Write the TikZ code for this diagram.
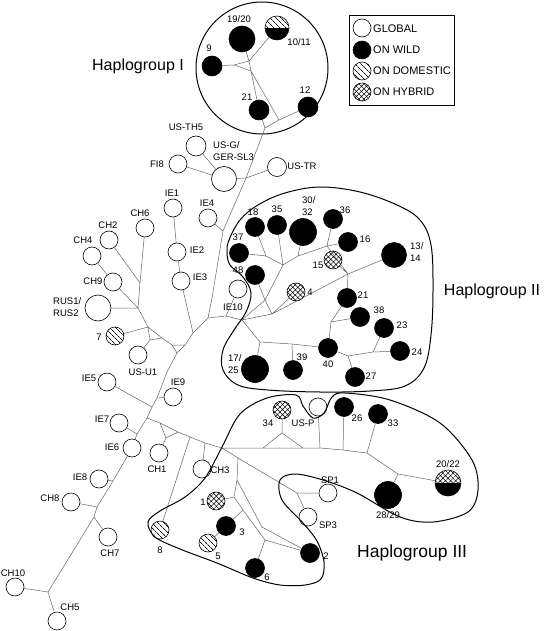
\documentclass[tikz,border=0pt]{standalone}
\usepackage{fontspec}
\setmainfont{Liberation Sans}
\usetikzlibrary{patterns.meta}
\begin{document}
\begin{tikzpicture}[x=1pt,y=-1pt,
  net/.style={draw=black!60, line width=0.5pt},
  outl/.style={draw=black, line width=1pt},
  hp/.style={circle, draw=black, line width=0.6pt, inner sep=0pt, minimum size=#1},
  hp/.default=18pt,
  glob/.style={hp=#1, fill=white}, glob/.default=18pt,
  wild/.style={hp=#1, fill=black}, wild/.default=19pt,
  dom/.style={hp=#1, preaction={fill=white}, pattern={Lines[angle=-45,distance=4pt,line width=0.7pt]}}, dom/.default=18pt,
  hyb/.style={hp=#1, preaction={fill=white}, pattern={Hatch[angle=45,distance=3.6pt,line width=0.5pt]}}, hyb/.default=18pt,
  lab/.style={inner sep=0pt, font=\fontsize{9.5}{12}\selectfont},
  labl/.style={lab, align=left, anchor=west},
  big/.style={inner sep=0pt, font=\fontsize{16}{18}\selectfont},
]
\useasboundingbox (0,0) rectangle (550,631);
\fill[white] (0,0) rectangle (550,631);

% ---------- Haplogroup I ----------
\node[wild=26pt] (n19) at (242,39) {};
\node[hp=24pt, fill=white, path picture={
  \fill[pattern={Lines[angle=-45,distance=4pt,line width=0.7pt]}] (path picture bounding box.north west) rectangle (path picture bounding box.east);
  \fill[black] (path picture bounding box.west) rectangle (path picture bounding box.south east);}] (n10) at (277,28) {};
\node[wild=20pt] (n9) at (212,66) {};
\node[wild=20pt] (n21a) at (259,110) {};
\node[wild=20pt] (n12) at (308,107) {};
\coordinate (ta) at (234,65);
\coordinate (tb) at (249,61);
\coordinate (tc) at (251,71);
\coordinate (a1) at (265,128);
\coordinate (a2) at (279,120);
\draw[net] (n9)--(ta)--(tb)--(tc)--(ta) (n10)--(tb) (n19)--(tb)
  (tc)--(n21a)--(a1) (tc)--(a2)--(n12) (a2)--(a1);
\draw[outl] (262,68) circle[radius=66];
\node[lab] at (239,19) {19/20};
\node[lab] at (299,42) {10/11};
\node[lab] at (209,48) {9};
\node[lab] at (247,97) {21};
\node[lab] at (305,90) {12};
\node[big] at (138,66) {Haplogroup I};

% ---------- legend ----------
\draw[line width=0.6pt] (349,15) rectangle (454,105);
\node[glob] (lg1) at (362,28) {};
\node[wild=18pt] (lg2) at (362,50) {};
\node[dom] (lg3) at (362,71) {};
\node[hyb] (lg4) at (362,92) {};
\begin{scope}[every node/.style={inner sep=0pt, anchor=west, font=\fontsize{11}{12}\selectfont}]
\node at (373,29) {GLOBAL};
\node at (373,50) {ON WILD};
\node at (373,71) {ON DOMESTIC};
\node at (373,92) {ON HYBRID};
\end{scope}

% ---------- global haplotypes (left) ----------
\node[glob=20pt] (usth5) at (196,146) {};
\node[glob=25pt] (usg) at (224,179) {};
\node[glob] (fi8) at (178,164) {};
\node[glob=19pt] (ustr) at (277,167) {};
\node[glob] (ie4) at (208,218) {};
\node[glob] (ie1) at (173,208) {};
\node[glob] (ie2) at (177,252) {};
\node[glob] (ie3) at (181,281) {};
\node[glob] (ch6) at (145,228) {};
\node[glob] (ch2) at (109,240) {};
\node[glob] (ch4) at (92,256) {};
\node[glob] (ch9) at (113,282) {};
\node[glob=26pt] (rus) at (98,308) {};
\node[dom] (n7) at (115,336) {};
\node[glob] (usu1) at (138,355) {};
\node[glob] (ie5) at (107,382) {};
\node[glob] (ie9) at (173,397) {};
\node[glob] (ie7) at (119,423) {};
\node[glob] (ie6) at (132,448) {};
\node[glob] (ch1) at (159,453) {};
\node[glob] (ie8) at (99,479) {};
\node[glob] (ch8) at (71,502) {};
\node[glob] (ch7) at (108,537) {};
\node[glob] (ch10) at (15,587) {};
\node[glob] (ch5) at (57,621) {};
\node[glob] (ie10) at (238,289) {};

\node[lab] at (186,127) {US-TH5};
\node[labl] at (213,151) {US-G/\\GER-SL3};
\node[lab] at (157,164) {FI8};
\node[lab] at (302,166) {US-TR};
\node[lab] at (207,203) {IE4};
\node[lab] at (172,193) {IE1};
\node[lab] at (197,250) {IE2};
\node[lab] at (200,277) {IE3};
\node[lab] at (140,213) {CH6};
\node[lab] at (108,225) {CH2};
\node[lab] at (83,240) {CH4};
\node[lab] at (93,281) {CH9};
\node[labl] at (53,307) {RUS1/\\RUS2};
\node[lab] at (99,337) {7};
\node[lab] at (143,372) {US-U1};
\node[lab] at (89,378) {IE5};
\node[lab] at (178,382) {IE9};
\node[lab] at (102,419) {IE7};
\node[lab] at (112,447) {IE6};
\node[lab] at (157,469) {CH1};
\node[lab] at (80,477) {IE8};
\node[lab] at (50,498) {CH8};
\node[lab] at (110,553) {CH7};
\node[lab] at (13,573) {CH10};
\node[lab] at (70,607) {CH5};
\node[lab] at (233,307) {IE10};

% trunk
\coordinate (t1) at (246,178);
\coordinate (t2) at (223,231);
\coordinate (t3) at (212,298);
\coordinate (t3b) at (208,318);
\coordinate (t4) at (193,333);
\coordinate (ta3) at (185,345);
\coordinate (tb3) at (172,345);
\coordinate (tc3) at (177,353);
\coordinate (t5) at (167,372);
\coordinate (t6) at (157,398);
\coordinate (t6b) at (152,407);
\coordinate (t7) at (147,418);
\coordinate (t8) at (137,434);
\coordinate (t10) at (113,481);
\coordinate (t11) at (97,507);
\coordinate (t11b) at (94,517);
\coordinate (t12) at (48,592);
\draw[net] (a1)--(t1)--(t2)--(t3)--(t3b)--(t4)--(ta3)--(tb3)--(tc3)--(ta3)
  (tc3)--(t5)--(t6)--(t6b)--(t7)--(t8)--(ie6)--(t10)--(t11)--(t11b)--(t12);
\draw[net] (usth5)--(usg)--(t1) (fi8)--(usg) (ustr)--(t1) (ie4)--(t2)
  (ie1)--(ie2)--(ie3)--(t4) (ie9)--(t6) (ie5)--(t6b) (ie7)--(t8)
  (ie8)--(t10) (ch8)--(t11) (ch7)--(t11b) (ch10)--(t12) (ch5)--(t12);
% left cluster
\coordinate (th) at (140,283);
\coordinate (tg) at (138,308);
\coordinate (te) at (148,327);
\coordinate (tf) at (150,340);
\coordinate (td) at (162,338);
\draw[net] (ch2)--(th) (ch6)--(th) (th)--(tg) (rus)--(tg) (ch4)--(ch9)--(tg)
  (tg)--(te) (n7)--(te) (te)--(tf) (usu1)--(tf) (te)--(td) (tf)--(td) (td)--(tb3);

% ---------- Haplogroup II ----------
\node[wild] (n18) at (255,227) {};
\node[wild] (n35) at (277,225) {};
\node[wild=27pt] (n3032) at (303,232) {};
\node[wild] (n36) at (333,219) {};
\node[wild] (n16) at (348,242) {};
\node[hyb] (n15) at (333,260) {};
\node[wild=25pt] (n1314) at (394,255) {};
\node[wild] (n37) at (239,253) {};
\node[wild] (n48) at (255,275) {};
\node[hyb] (n4) at (296,292) {};
\node[wild] (n21b) at (347,298) {};
\node[wild] (n38) at (360,317) {};
\node[wild] (n23) at (384,328) {};
\node[wild] (n24) at (400,351) {};
\node[wild] (n40) at (328,348) {};
\node[wild] (n27) at (355,377) {};
\node[wild] (n39) at (293,370) {};
\node[wild=27pt] (n1725) at (255,369) {};

\coordinate (r2) at (226,316);
\coordinate (hp0) at (242,320);
\coordinate (ha) at (272,314);
\coordinate (hk) at (265,300);
\coordinate (h1) at (348,274);
\coordinate (f0) at (266,256);
\coordinate (g3) at (283,265);
\coordinate (g2) at (298,256);
\coordinate (g1) at (327,246);
\coordinate (hb0) at (260,342);
\coordinate (l39) at (292,344);
\coordinate (pp) at (331,322);
\coordinate (nn) at (348,356);
\coordinate (oo) at (373,352);
\draw[net] (t3b)--(r2)--(hp0)--(ha)--(h1)--(n1314) (ie10)--(r2)
  (ha)--(n4) (hp0)--(hk)--(ha) (hk)--(n48) (hk)--(g3) (f0)--(g3)
  (n18)--(f0) (n37)--(f0) (g3)--(g2)--(g1) (n35)--(g3) (n3032)--(g2)
  (n36)--(g1) (n16)--(g1) (g1)--(h1) (n15)--(h1) (h1)--(n21b)
  (hp0)--(hb0)--(n1725) (hb0)--(l39)--(n40) (l39)--(n39)
  (n40)--(pp)--(n21b) (pp)--(n38) (n40)--(nn)--(n27) (nn)--(oo)--(n24) (oo)--(n23);

\draw[outl] plot[smooth cycle, tension=0.6] coordinates {
 (229,240) (240,220) (258,205) (285,193) (320,187) (360,192) (397,205) (420,220)
 (431,245) (433,290) (431,335) (424,368) (405,386) (370,391) (320,392) (268,390)
 (238,385) (223,370) (223,350) (234,330) (246,312) (251,293) (243,277) (230,265) (227,252)};

\node[lab] at (253,212) {18};
\node[lab] at (277,209) {35};
\node[labl] at (302,206) {30/\\32};
\node[lab] at (345,210) {36};
\node[lab] at (365,239) {16};
\node[lab] at (318,265) {15};
\node[labl] at (410,252) {13/\\14};
\node[lab] at (238,237) {37};
\node[lab] at (238,270) {48};
\node[lab] at (310,292) {4};
\node[lab] at (363,295) {21};
\node[lab] at (379,310) {38};
\node[lab] at (402,325) {23};
\node[lab] at (417,352) {24};
\node[lab] at (328,364) {40};
\node[lab] at (371,376) {27};
\node[lab] at (302,357) {39};
\node[labl] at (228,364) {17/\\25};
\node[big] at (492,291) {Haplogroup II};

% ---------- Haplogroup III ----------
\node[hyb] (n34) at (282,410) {};
\node[glob] (usp) at (318,407) {};
\node[wild] (n26) at (344,407) {};
\node[wild] (n33) at (378,414) {};
\node[hp=26pt, fill=white, path picture={
  \fill[pattern={Hatch[angle=45,distance=3.6pt,line width=0.5pt]}] (path picture bounding box.north west) rectangle (path picture bounding box.east);
  \fill[black] (path picture bounding box.west) rectangle (path picture bounding box.south east);}] (n2022) at (448,483) {};
\node[wild=27pt] (n2829) at (388,495) {};
\node[glob] (ch3) at (202,469) {};
\node[hyb] (n1) at (216,501) {};
\node[wild] (n3) at (226,526) {};
\node[dom] (n5) at (208,543) {};
\node[dom] (n8) at (160,530) {};
\node[glob] (sp1) at (328,493) {};
\node[glob] (sp3) at (308,517) {};
\node[wild] (n2) at (310,553) {};
\node[wild] (n6) at (255,568) {};

\coordinate (c1) at (160,423);
\coordinate (c2) at (178,432);
\coordinate (c3) at (166,438);
\coordinate (j8) at (190,437);
\coordinate (jc3) at (205,443);
\coordinate (j3) at (222,448);
\coordinate (l2a) at (263,448);
\coordinate (l2b) at (303,448);
\coordinate (l2c) at (320,448);
\coordinate (l2d) at (343,450);
\coordinate (l2e) at (367,453);
\coordinate (l2f) at (398,474);
\coordinate (j34) at (282,433);
\coordinate (h3a) at (238,458);
\coordinate (sp) at (297,493);
\coordinate (h3b) at (237,480);
\coordinate (h3c) at (234,497);
\coordinate (h3d) at (243,510);
\coordinate (h3e) at (265,540);
\coordinate (h3f) at (262,527);
\draw[net] (t7)--(c1)--(c2) (c1)--(c3)--(c2) (ch1)--(c3)
  (c2)--(j8)--(jc3)--(j3)--(l2a)--(l2b)--(l2c)--(l2d)--(l2e)--(l2f)--(n2022)
  (l2f)--(n2829) (n8)--(j8) (ch3)--(jc3)
  (n34)--(j34)--(l2a) (j34)--(l2b) (usp)--(l2c) (n26)--(l2d) (n33)--(l2e)
  (j3)--(h3a)--(sp)--(sp1) (sp)--(sp3)
  (h3a)--(h3b)--(h3c)--(h3d)--(h3e)--(n6) (h3e)--(n2) (n1)--(h3c) (n3)--(h3d)
  (n5)--(n3) (h3b)--(h3f)--(n2);

\draw[outl] plot[smooth cycle, tension=0.55] coordinates {
 (148,522) (160,511) (185,497) (205,478) (222,447) (240,414) (267,398) (296,395)
 (303,406) (313,418) (324,413) (332,397) (345,393) (390,400) (440,423) (472,460)
 (478,490) (468,512) (433,522) (400,517) (357,493) (323,480) (295,474) (280,480)
 (282,500) (303,523) (317,541) (324,562) (321,579) (305,585) (280,585) (253,578)
 (217,563) (180,549) (155,537)};

\node[lab] at (268,423) {34};
\node[lab] at (303,423) {US-P};
\node[lab] at (357,418) {26};
\node[lab] at (393,423) {33};
\node[lab] at (448,464) {20/22};
\node[lab] at (388,515) {28/29};
\node[lab] at (330,480) {SP1};
\node[lab] at (328,525) {SP3};
\node[lab] at (203,502) {1};
\node[lab] at (242,532) {3};
\node[lab] at (218,556) {5};
\node[lab] at (160,550) {8};
\node[lab] at (326,556) {2};
\node[lab] at (267,577) {6};
\node[lab] at (220,470) {CH3};
\node[inner sep=0pt, font=\fontsize{17.5}{20}\selectfont, anchor=west] at (357,553) {Haplogroup III};
\end{tikzpicture}
\end{document}
